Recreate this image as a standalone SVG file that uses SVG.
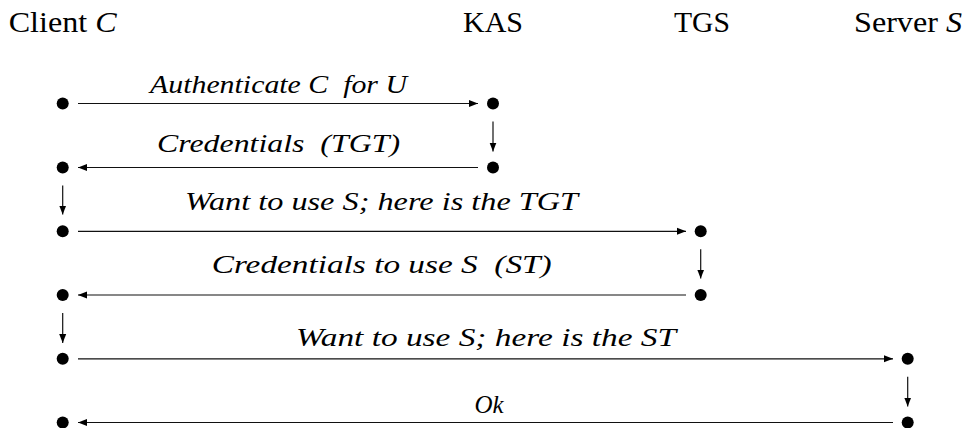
<svg xmlns="http://www.w3.org/2000/svg" width="964" height="428" viewBox="0 0 964 428">
<style>
.hdr{font-size:30px;fill:#000;text-anchor:middle}
.it{font-style:italic}
.lbl{font-style:italic;font-size:25px;fill:#000;text-anchor:middle}
.ln{stroke:#111;stroke-width:1.2;fill:none}
.dot{fill:#000}
</style>
<defs>
<marker id="ah" markerUnits="userSpaceOnUse" markerWidth="10" markerHeight="8" refX="9" refY="4" orient="auto">
<path d="M0,0.5 L9,4 L0,7.5 Z" fill="#000"/>
</marker>
</defs>
<rect width="964" height="428" fill="#fff"/>
<g id="headers" font-family="Liberation Serif, DejaVu Serif, serif">
<text class="hdr" x="62.7" y="31.7" textLength="108" lengthAdjust="spacingAndGlyphs">Client <tspan class="it">C</tspan></text>
<text class="hdr" x="493" y="31.7" textLength="60" lengthAdjust="spacingAndGlyphs">KAS</text>
<text class="hdr" x="702" y="31.7" textLength="56" lengthAdjust="spacingAndGlyphs">TGS</text>
<text class="hdr" x="908" y="31.7" textLength="108" lengthAdjust="spacingAndGlyphs">Server <tspan class="it">S</tspan></text>
</g>
<g id="client">
<circle class="dot" cx="62.7" cy="103.5" r="6"/>
<circle class="dot" cx="62.7" cy="167.5" r="6"/>
<circle class="dot" cx="62.7" cy="231.3" r="6"/>
<circle class="dot" cx="62.7" cy="295" r="6"/>
<circle class="dot" cx="62.7" cy="358.8" r="6"/>
<circle class="dot" cx="62.7" cy="422.5" r="6"/>
</g>
<g id="kas">
<circle class="dot" cx="493" cy="103.5" r="6"/>
<circle class="dot" cx="493" cy="167.5" r="6"/>
</g>
<g id="tgs">
<circle class="dot" cx="700.7" cy="231.3" r="6"/>
<circle class="dot" cx="700.7" cy="295" r="6"/>
</g>
<g id="server">
<circle class="dot" cx="907.7" cy="358.8" r="6"/>
<circle class="dot" cx="907.7" cy="422.5" r="6"/>
</g>
<g id="connectors">
<line class="ln" x1="78" y1="103.5" x2="478" y2="103.5" marker-end="url(#ah)"/>
<line class="ln" x1="493" y1="121.5" x2="493" y2="151.5" marker-end="url(#ah)"/>
<line class="ln" x1="478" y1="167.5" x2="78" y2="167.5" marker-end="url(#ah)"/>
<line class="ln" x1="62.7" y1="185.5" x2="62.7" y2="214.5" marker-end="url(#ah)"/>
<line class="ln" x1="78" y1="231.3" x2="686" y2="231.3" marker-end="url(#ah)"/>
<line class="ln" x1="700.7" y1="249.3" x2="700.7" y2="278.5" marker-end="url(#ah)"/>
<line class="ln" x1="686" y1="295" x2="78" y2="295" marker-end="url(#ah)"/>
<line class="ln" x1="62.7" y1="313" x2="62.7" y2="343" marker-end="url(#ah)"/>
<line class="ln" x1="78" y1="358.8" x2="893" y2="358.8" marker-end="url(#ah)"/>
<line class="ln" x1="907.7" y1="376.8" x2="907.7" y2="406.5" marker-end="url(#ah)"/>
<line class="ln" x1="893" y1="422.5" x2="78" y2="422.5" marker-end="url(#ah)"/>
</g>
<g id="labels" font-family="Liberation Serif, DejaVu Serif, serif">
<text class="lbl" x="278.5" y="93.3" xml:space="preserve" textLength="257" lengthAdjust="spacingAndGlyphs">Authenticate C  for U</text>
<text class="lbl" x="278.5" y="151.7" xml:space="preserve" textLength="243" lengthAdjust="spacingAndGlyphs">Credentials  (TGT)</text>
<text class="lbl" x="381.5" y="210" textLength="393" lengthAdjust="spacingAndGlyphs">Want to use S; here is the TGT</text>
<text class="lbl" x="381.7" y="273.3" xml:space="preserve" textLength="340" lengthAdjust="spacingAndGlyphs">Credentials to use S  (ST)</text>
<text class="lbl" x="486" y="346" textLength="380" lengthAdjust="spacingAndGlyphs">Want to use S; here is the ST</text>
<text class="lbl" x="489" y="413">Ok</text>
</g>
</svg>
